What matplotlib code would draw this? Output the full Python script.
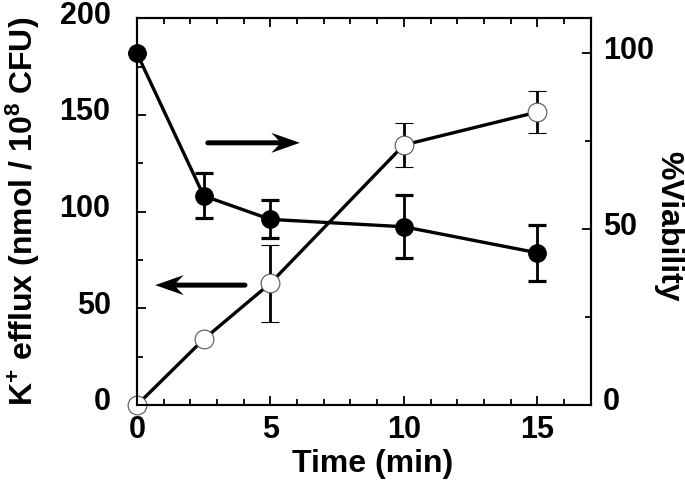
import numpy as np
import matplotlib
matplotlib.use('Agg')
import matplotlib.pyplot as plt
from matplotlib.ticker import MultipleLocator
from matplotlib.transforms import ScaledTranslation
from matplotlib.patches import Polygon

plt.rcParams['font.family'] = ['Liberation Sans', 'DejaVu Sans']
plt.rcParams['font.weight'] = 'bold'
plt.rcParams['mathtext.default'] = 'regular'

# Dados
tempo = [0, 2.5, 5, 10, 15]
efluxo_k = [0, 34, 63, 134.5, 151.5]          # nmol / 10^8 CFU (círculos abertos, eixo esquerdo)
efluxo_err = [0, 0, 20, 11.5, 11]
viabilidade = [100, 59.5, 52.8, 50.7, 43.3]   # % (círculos cheios, eixo direito)
viab_err = [0, 6.4, 5.4, 9, 8]

fig = plt.figure(figsize=(6.85, 4.83), dpi=100)
ax = fig.add_axes([0.2, 0.1615, 0.6623, 0.8006])
ax2 = ax.twinx()

# Estilo dos eixos
for a in (ax, ax2):
    for spine in a.spines.values():
        spine.set_linewidth(1.5)
ax.set_xlim(0, 17)
ax.set_ylim(0, 200)
ax2.set_ylim(0, 110)

ax.xaxis.set_major_locator(MultipleLocator(5))
ax.xaxis.set_minor_locator(MultipleLocator(1))
ax.yaxis.set_major_locator(MultipleLocator(50))
ax.yaxis.set_minor_locator(MultipleLocator(25))
ax2.yaxis.set_major_locator(MultipleLocator(50))
ax2.yaxis.set_minor_locator(MultipleLocator(25))

ax.tick_params(axis='x', which='both', direction='in', top=True, bottom=True, pad=7)
ax.tick_params(axis='y', which='both', direction='in', left=True, right=False, pad=19)
ax2.tick_params(axis='y', which='both', direction='in', right=True, pad=9)
for a in (ax, ax2):
    a.tick_params(which='major', length=6.7, width=1.3, labelsize=22)
    a.tick_params(which='minor', length=4.3, width=1.3)

# Rótulos do eixo y ficam um pouco acima das marcas
desloc = ScaledTranslation(0, 6 / 100, fig.dpi_scale_trans)
for lbl in ax.get_yticklabels() + ax2.get_yticklabels():
    lbl.set_transform(lbl.get_transform() + desloc)

ax.set_xlabel('Time (min)', fontsize=23, fontweight='bold')
ax.set_ylabel(r'K$^{+}$ efflux (nmol / 10$^{8}$ CFU)', fontsize=23, fontweight='bold')
ax2.set_ylabel('%Viability', fontsize=23, fontweight='bold', rotation=270)
for lab in (ax.xaxis.label, ax.yaxis.label, ax2.yaxis.label):
    lab.set_va('center')
    lab.set_ha('center')
ax.xaxis.set_label_coords(0.52, -0.153)
ax.yaxis.set_label_coords(-0.251, 0.5)
ax2.yaxis.set_label_coords(1.170, 0.463)

# Séries
ax.errorbar(tempo, efluxo_k, yerr=efluxo_err, color='black', lw=2.4, elinewidth=2,
            capsize=6.5, capthick=2.3, marker='o', markersize=13.5, markerfacecolor='white',
            markeredgecolor='#555555', markeredgewidth=0.8, clip_on=False, zorder=3)
ax2.errorbar(tempo, viabilidade, yerr=viab_err, color='black', lw=2.4, elinewidth=2,
             capsize=6.5, capthick=2.3, marker='o', markersize=12.5, markerfacecolor='black',
             markeredgecolor='black', clip_on=False, zorder=3)

# Setas indicando o eixo de cada curva (ponta tipo "stealth")
def seta(x0, x1, y):
    sentido = 1 if x1 > x0 else -1
    ax.annotate('', xy=(x1, y), xytext=(x0, y), xycoords='axes fraction',
                arrowprops=dict(arrowstyle='-', color='black', lw=3.6,
                                shrinkA=0, shrinkB=8))
    ponta = ScaledTranslation(x1, y, ax.transAxes)
    vert = np.array([[0, 0], [-0.285, 0.10], [-0.19, 0], [-0.285, -0.10]])
    vert[:, 0] *= sentido
    ax.add_patch(Polygon(vert, closed=True, color='black', lw=0,
                         transform=fig.dpi_scale_trans + ponta, zorder=4))

seta(0.156, 0.359, 0.678)
seta(0.238, 0.040, 0.31)

fig.savefig('out.png', dpi=100)
